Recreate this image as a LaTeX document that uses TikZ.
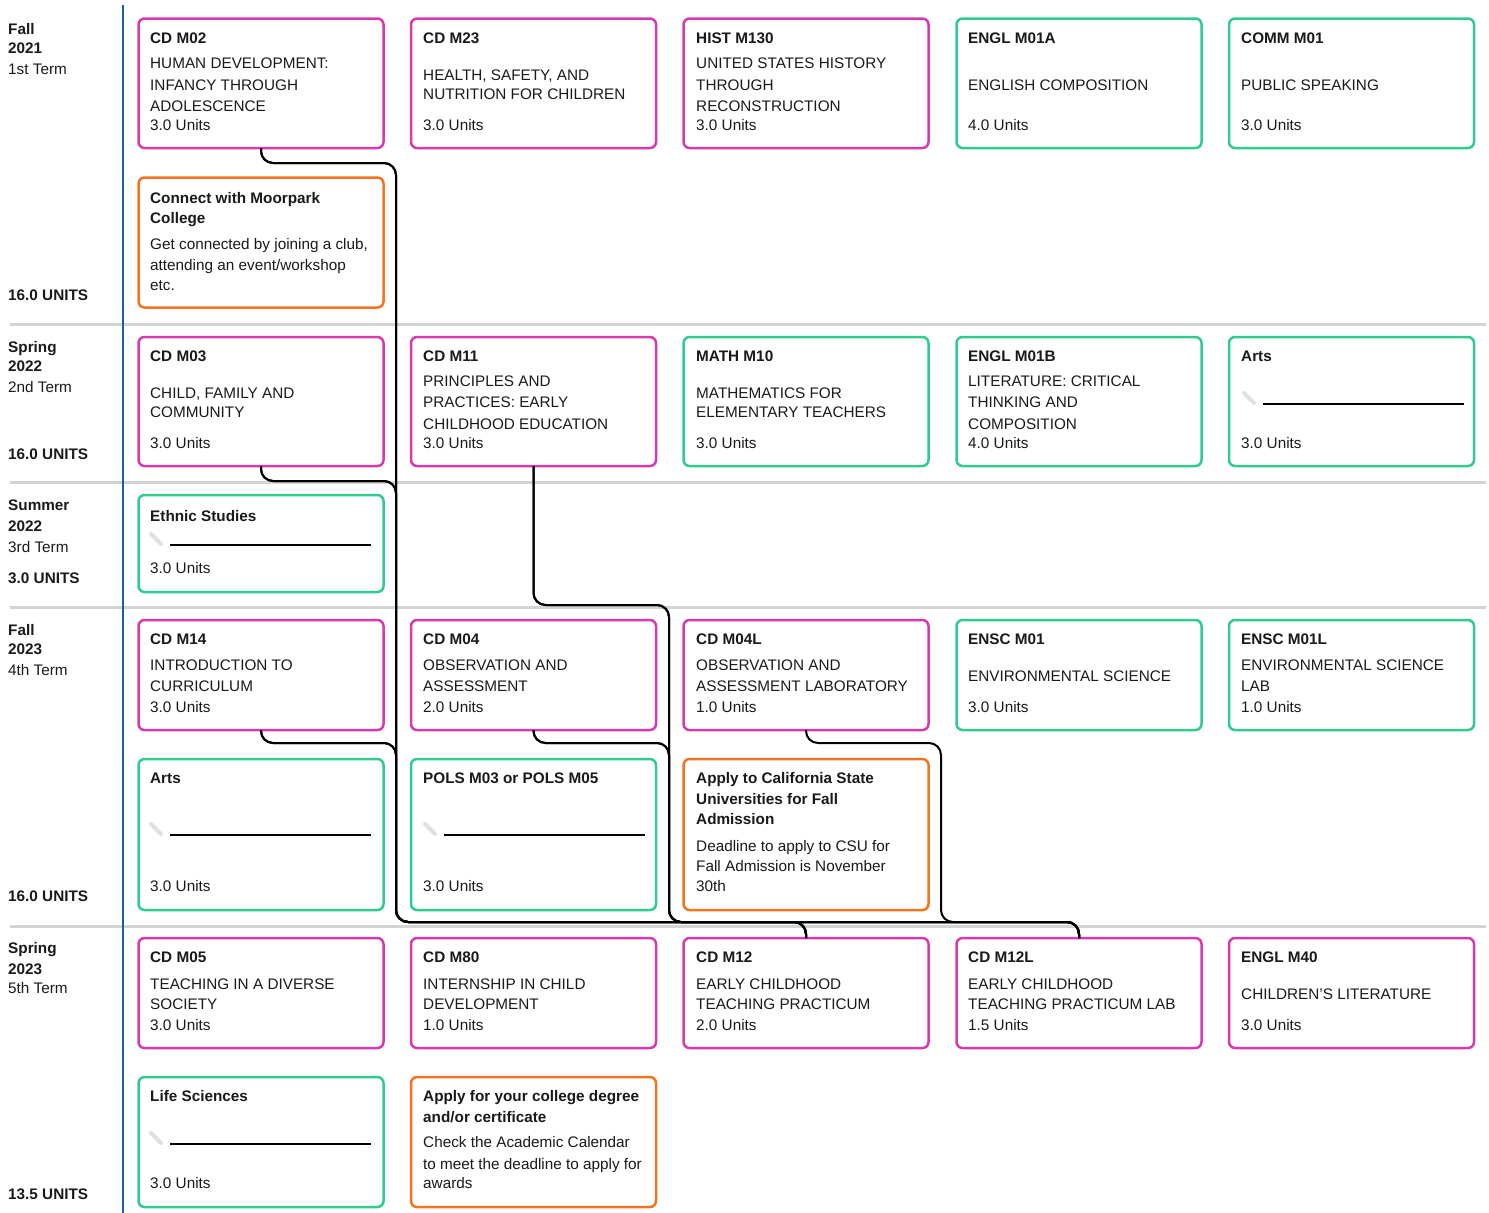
\documentclass[tikz,border=0pt]{standalone}
\usepackage{fontspec}
\setmainfont{Liberation Sans}
\definecolor{mag}{HTML}{D63AAE}
\definecolor{grn}{HTML}{2ECC8F}
\definecolor{org}{HTML}{F47320}
\definecolor{axisblue}{HTML}{1B5E9E}
\definecolor{sepgray}{HTML}{D4D4D4}
\definecolor{txtc}{HTML}{1A1A1A}
\newcounter{tn}
\newcommand\T[3]{\stepcounter{tn}\node[txt] (t\arabic{tn}) at (#1,#2+6) {#3};}
\newcommand\B[3]{\stepcounter{tn}\node[txt,font=\fontsize{15.3}{18}\selectfont\bfseries] (t\arabic{tn}) at (#1,#2+6) {#3};}
\newcommand\cbox[5]{\node[box,draw=#5,minimum height={#4-#3}] (#1) at (#2,#3) {};}
\newcommand\blank[3]{\draw[pencil] (#1-5,#3-11) -- (#1+5,#3-1); \draw[blankline] (#1+14,#3) -- (#2,#3);}
\begin{document}
\begin{tikzpicture}[x=1pt,y=-1pt,
  txt/.style={anchor=base west, inner sep=0, text=txtc, font=\fontsize{15.3}{18}\selectfont},
  box/.style={line width=2.5pt, rounded corners=6pt, minimum width=245pt, outer sep=0pt, inner sep=0pt, fill=white, anchor=north west},
  conn/.style={draw=black, line width=2pt, rounded corners=12pt},
  pencil/.style={draw=black!12, line width=4pt, line cap=round},
  blankline/.style={draw=black, line width=2pt},
  sepline/.style={draw=sepgray, line width=3pt}]
\useasboundingbox (0,0) rectangle (1489,1213);
% separators and axis
\foreach \yy in {324,482,607,926} \draw[sepline] (10,\yy) -- (1486,\yy);
\draw[draw=axisblue, line width=2pt] (123,5) -- (123,1213);

% term labels
\B{8}{28}{Fall} \B{8}{47}{2021} \T{8}{68}{1st Term} \B{8}{294}{16.0 UNITS}
\B{8}{346}{Spring} \B{8}{365}{2022} \T{8}{386}{2nd Term} \B{8}{453}{16.0 UNITS}
\B{8}{504}{Summer} \B{8}{525}{2022} \T{8}{546}{3rd Term} \B{8}{577}{3.0 UNITS}
\B{8}{629}{Fall} \B{8}{648}{2023} \T{8}{669}{4th Term} \B{8}{895}{16.0 UNITS}
\B{8}{947}{Spring} \B{8}{968}{2023} \T{8}{987}{5th Term} \B{8}{1193}{13.5 UNITS}

% ---- Fall 2021
\cbox{m02}{138.5}{18.5}{148}{mag}
\B{150}{37}{CD M02} \T{150}{62}{HUMAN DEVELOPMENT:} \T{150}{84}{INFANCY THROUGH} \T{150}{105}{ADOLESCENCE} \T{150}{124}{3.0 Units}
\cbox{m23}{411}{18.5}{148}{mag}
\B{423}{37}{CD M23} \T{423}{74}{HEALTH, SAFETY, AND} \T{423}{93}{NUTRITION FOR CHILDREN} \T{423}{124}{3.0 Units}
\cbox{h130}{683.5}{18.5}{148}{mag}
\B{696}{37}{HIST M130} \T{696}{62}{UNITED STATES HISTORY} \T{696}{84}{THROUGH} \T{696}{105}{RECONSTRUCTION} \T{696}{124}{3.0 Units}
\cbox{e1a}{956.5}{18.5}{148}{grn}
\B{968}{37}{ENGL M01A} \T{968}{84}{ENGLISH COMPOSITION} \T{968}{124}{4.0 Units}
\cbox{c01}{1229}{18.5}{148}{grn}
\B{1241}{37}{COMM M01} \T{1241}{84}{PUBLIC SPEAKING} \T{1241}{124}{3.0 Units}
\cbox{conn1}{138.5}{177.5}{307.5}{org}
\B{150}{197}{Connect with Moorpark} \B{150}{217}{College}
\T{150}{243}{Get connected by joining a club,} \T{150}{264}{attending an event/workshop} \T{150}{284}{etc.}

% ---- Spring 2022
\cbox{m03}{138.5}{337}{466}{mag}
\B{150}{355}{CD M03} \T{150}{392}{CHILD, FAMILY AND} \T{150}{411}{COMMUNITY} \T{150}{442}{3.0 Units}
\cbox{m11}{411}{337}{466}{mag}
\B{423}{355}{CD M11} \T{423}{380}{PRINCIPLES AND} \T{423}{401}{PRACTICES: EARLY} \T{423}{423}{CHILDHOOD EDUCATION} \T{423}{442}{3.0 Units}
\cbox{m10}{683.5}{337}{466}{grn}
\B{696}{355}{MATH M10} \T{696}{392}{MATHEMATICS FOR} \T{696}{411}{ELEMENTARY TEACHERS} \T{696}{442}{3.0 Units}
\cbox{e1b}{956.5}{337}{466}{grn}
\B{968}{355}{ENGL M01B} \T{968}{380}{LITERATURE: CRITICAL} \T{968}{401}{THINKING AND} \T{968}{423}{COMPOSITION} \T{968}{442}{4.0 Units}
\cbox{arts1}{1229}{337}{466}{grn}
\B{1241}{355}{Arts} \blank{1249}{1464}{404} \T{1241}{442}{3.0 Units}

% ---- Summer 2022
\cbox{eth}{138.5}{495}{592}{grn}
\B{150}{515}{Ethnic Studies} \blank{156}{371}{545} \T{150}{567}{3.0 Units}

% ---- Fall 2023
\cbox{m14}{138.5}{620}{730}{mag}
\B{150}{638}{CD M14} \T{150}{664}{INTRODUCTION TO} \T{150}{685}{CURRICULUM} \T{150}{706}{3.0 Units}
\cbox{m04}{411}{620}{730}{mag}
\B{423}{638}{CD M04} \T{423}{664}{OBSERVATION AND} \T{423}{685}{ASSESSMENT} \T{423}{706}{2.0 Units}
\cbox{m04l}{683.5}{620}{730}{mag}
\B{696}{638}{CD M04L} \T{696}{664}{OBSERVATION AND} \T{696}{685}{ASSESSMENT LABORATORY} \T{696}{706}{1.0 Units}
\cbox{ensc}{956.5}{620}{730}{grn}
\B{968}{638}{ENSC M01} \T{968}{675}{ENVIRONMENTAL SCIENCE} \T{968}{706}{3.0 Units}
\cbox{enscl}{1229}{620}{730}{grn}
\B{1241}{638}{ENSC M01L} \T{1241}{664}{ENVIRONMENTAL SCIENCE} \T{1241}{685}{LAB} \T{1241}{706}{1.0 Units}
\cbox{arts2}{138.5}{759}{910}{grn}
\B{150}{777}{Arts} \blank{156}{371}{835} \T{150}{885}{3.0 Units}
\cbox{pols}{411}{759}{910}{grn}
\B{423}{777}{POLS M03 or POLS M05} \blank{430}{645}{835} \T{423}{885}{3.0 Units}
\cbox{csu}{683.5}{759}{910}{org}
\B{696}{777}{Apply to California State} \B{696}{798}{Universities for Fall} \B{696}{818}{Admission}
\T{696}{845}{Deadline to apply to CSU for} \T{696}{865}{Fall Admission is November} \T{696}{885}{30th}

% ---- Spring 2023
\cbox{m05}{138.5}{938}{1048}{mag}
\B{150}{956}{CD M05} \T{150}{983}{TEACHING IN A DIVERSE} \T{150}{1003}{SOCIETY} \T{150}{1024}{3.0 Units}
\cbox{m80}{411}{938}{1048}{mag}
\B{423}{956}{CD M80} \T{423}{983}{INTERNSHIP IN CHILD} \T{423}{1003}{DEVELOPMENT} \T{423}{1024}{1.0 Units}
\cbox{m12}{683.5}{938}{1048}{mag}
\B{696}{956}{CD M12} \T{696}{983}{EARLY CHILDHOOD} \T{696}{1003}{TEACHING PRACTICUM} \T{696}{1024}{2.0 Units}
\cbox{m12l}{956.5}{938}{1048}{mag}
\B{968}{956}{CD M12L} \T{968}{983}{EARLY CHILDHOOD} \T{968}{1003}{TEACHING PRACTICUM LAB} \T{968}{1024}{1.5 Units}
\cbox{e40}{1229}{938}{1048}{mag}
\B{1241}{956}{ENGL M40} \T{1241}{993}{CHILDREN'S LITERATURE} \T{1241}{1024}{3.0 Units}
\cbox{life}{138.5}{1077}{1207}{grn}
\B{150}{1095}{Life Sciences} \blank{156}{371}{1144} \T{150}{1182}{3.0 Units}
\cbox{deg}{411}{1077}{1207}{org}
\B{423}{1095}{Apply for your college degree} \B{423}{1116}{and/or certificate}
\T{423}{1141}{Check the Academic Calendar} \T{423}{1163}{to meet the deadline to apply for} \T{423}{1182}{awards}

% ---- connectors
\coordinate (ja) at (396,922);
\coordinate (jb) at (669,922);
\coordinate (jc) at (941,922);
\foreach \src/\yy in {m02/163, m03/481, m14/743} {
  \draw[conn] (\src.south) |- (396,\yy) -- (ja) -| (m12.north);
  \draw[conn] (\src.south) |- (396,\yy) -- (ja) -| (m12l.north);
}
\foreach \src/\yy in {m11/605, m04/743} {
  \draw[conn] (\src.south) |- (669,\yy) -- (jb) -| (m12.north);
  \draw[conn] (\src.south) |- (669,\yy) -- (jb) -| (m12l.north);
}
\draw[conn] (m04l.south) |- (941,743) -- (jc) -| (m12l.north);
\end{tikzpicture}
\end{document}
